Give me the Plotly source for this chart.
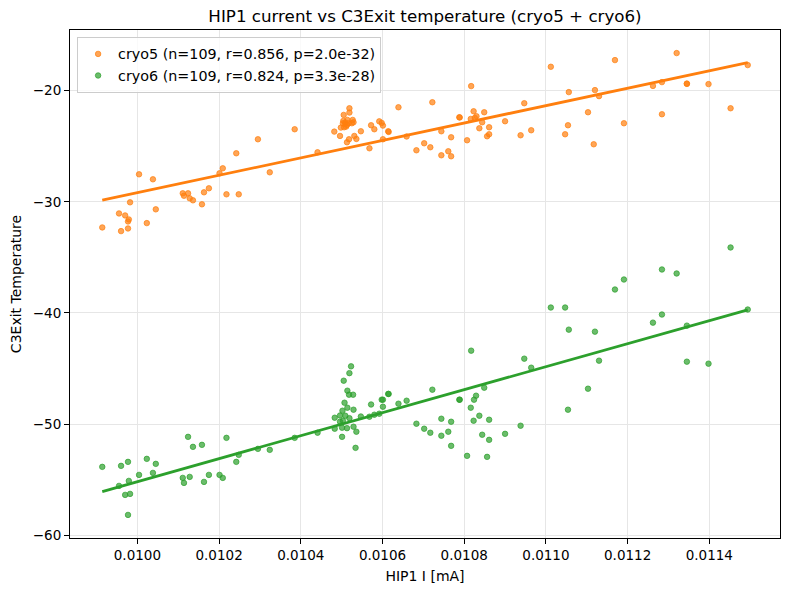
import numpy as np
import plotly.graph_objects as go

# HIP1 current [mA]
x_cryo5 = [0.009914, 0.009955, 0.009960, 0.009970, 0.009977, 0.009977, 0.009979, 0.009982, 0.010004, 0.010023,
           0.010038, 0.010045, 0.010111, 0.010114, 0.010124, 0.010128, 0.010136, 0.010158, 0.010163, 0.010175,
           0.010201, 0.010209, 0.010218, 0.010242, 0.010248, 0.010295, 0.010324, 0.010385, 0.010441, 0.010482,
           0.010496, 0.010498, 0.010503, 0.010504, 0.010505, 0.010506, 0.010509, 0.010509, 0.010511, 0.010513,
           0.010513, 0.010514, 0.010517, 0.010518, 0.010519, 0.010519, 0.010525, 0.010527, 0.010529, 0.010531,
           0.010536, 0.010547, 0.010568, 0.010572, 0.010580, 0.010592, 0.010598, 0.010601, 0.010601, 0.010614,
           0.010615, 0.010639, 0.010659, 0.010683, 0.010702, 0.010717, 0.010722, 0.010744, 0.010744, 0.010761,
           0.010768, 0.010768, 0.010788, 0.010789, 0.010807, 0.010816, 0.010817, 0.010823, 0.010826, 0.010830,
           0.010837, 0.010844, 0.010849, 0.010856, 0.010861, 0.010861, 0.010900, 0.010938, 0.010947, 0.010964,
           0.011012, 0.011047, 0.011054, 0.011056, 0.011103, 0.011117, 0.011120, 0.011130, 0.011169, 0.011191,
           0.011262, 0.011284, 0.011284, 0.011320, 0.011345, 0.011345, 0.011398, 0.011452, 0.011494]
y_cryo5 = [-32.31, -31.05, -32.64, -31.23, -31.77, -32.40, -31.59, -30.05, -27.53, -31.92,
           -27.98, -30.68, -29.24, -29.46, -29.24, -29.69, -29.87, -30.23, -29.15, -28.79,
           -27.44, -26.99, -29.33, -25.64, -29.33, -24.38, -27.35, -23.48, -25.55, -23.69,
           -24.08, -23.33, -22.94, -22.73, -22.19, -23.30, -22.88, -23.00, -23.24, -23.09,
           -24.65, -22.64, -22.94, -24.38, -21.59, -21.98, -22.94, -22.64, -22.85, -24.08,
           -24.35, -23.66, -25.19, -23.12, -23.48, -22.77, -22.91, -23.15, -24.38, -23.66,
           -23.72, -21.50, -24.13, -25.37, -24.74, -25.10, -21.05, -23.66, -25.82, -25.46,
           -25.91, -24.20, -22.40, -22.42, -24.47, -22.55, -19.60, -21.86, -22.46, -22.31,
           -23.39, -22.85, -21.95, -24.11, -23.30, -23.93, -22.76, -24.02, -21.14, -23.57,
           -17.86, -23.93, -23.12, -20.14, -21.95, -24.83, -19.96, -20.50, -17.26, -22.94,
           -19.58, -19.24, -22.13, -16.63, -19.37, -19.40, -19.42, -21.59, -17.71]

x_cryo6 = [0.009914, 0.009955, 0.009960, 0.009970, 0.009977, 0.009977, 0.009979, 0.009982, 0.010004, 0.010023,
           0.010038, 0.010045, 0.010111, 0.010114, 0.010124, 0.010128, 0.010136, 0.010158, 0.010163, 0.010175,
           0.010201, 0.010209, 0.010218, 0.010242, 0.010248, 0.010295, 0.010324, 0.010385,
           0.010441, 0.010483, 0.010483, 0.010496, 0.010496, 0.010501, 0.010501, 0.010502, 0.010503, 0.010505,
           0.010507, 0.010509, 0.010513, 0.010514, 0.010514, 0.010518, 0.010519, 0.010519, 0.010523, 0.010528,
           0.010529, 0.010529, 0.010534, 0.010536, 0.010547, 0.010568, 0.010572, 0.010580, 0.010592, 0.010598,
           0.010601, 0.010601, 0.010614, 0.010615, 0.010639, 0.010659, 0.010683, 0.010702, 0.010717, 0.010722,
           0.010744, 0.010744, 0.010761, 0.010768, 0.010768, 0.010788, 0.010789, 0.010807, 0.010816, 0.010817,
           0.010823, 0.010824, 0.010829, 0.010837, 0.010844, 0.010849, 0.010856, 0.010861, 0.010861, 0.010900,
           0.010938, 0.010947, 0.010964,
           0.011012, 0.011047, 0.011054, 0.011056, 0.011103, 0.011120, 0.011130, 0.011169, 0.011191, 0.011262,
           0.011284, 0.011284, 0.011320, 0.011345, 0.011345, 0.011398, 0.011452, 0.011494]
y_cryo6 = [-53.84, -55.55, -53.75, -56.36, -53.39, -58.16, -55.10, -56.27, -54.56, -53.12,
           -54.38, -53.57, -54.83, -55.28, -51.14, -54.74, -52.04, -51.86, -55.19, -54.56,
           -54.56, -54.83, -51.23, -53.39, -52.76, -52.22, -52.31, -51.23,
           -50.77, -49.42, -50.41, -49.22, -49.78, -50.32, -51.14, -48.79, -49.69, -46.09,
           -48.07, -49.24, -50.36, -46.99, -48.52, -47.35, -45.41, -49.46, -44.80, -47.35,
           -48.70, -50.23, -52.13, -50.68, -49.31, -49.33, -48.23, -49.15, -49.06, -47.80,
           -47.80, -48.43, -47.28, -47.28, -48.16, -47.89, -49.96, -50.41, -50.77, -46.90,
           -49.51, -51.04, -50.68, -49.78, -51.95, -47.80, -47.80, -52.85, -48.52, -43.39,
           -49.69, -47.80, -47.44, -49.24, -50.95, -46.72, -52.94, -49.60, -51.41, -50.87,
           -50.14, -44.11, -44.92,
           -39.51, -39.51, -48.70, -41.50, -46.81, -41.68, -44.29, -37.89, -36.99, -40.87,
           -36.09, -40.14, -36.45, -41.14, -44.38, -44.56, -34.11, -39.69]

series_names = ["cryo5 (n=109, r=0.856, p=2.0e-32)", "cryo6 (n=109, r=0.824, p=3.3e-28)"]
series_rgb = [(255, 127, 14), (44, 160, 44)]

title_text = "HIP1 current vs C3Exit temperature (cryo5 + cryo6)"
x_label = "HIP1 I [mA]"
y_label = "C3Exit Temperature"

FONT = "DejaVu Sans, Liberation Sans, sans-serif"

fig = go.Figure()
all_x, all_y = [], []
for xs, ys, name, rgb in zip([x_cryo5, x_cryo6], [y_cryo5, y_cryo6], series_names, series_rgb):
    xa = np.array(xs)
    ya = np.array(ys)
    all_x += xs
    all_y += ys
    rgba = "rgba(%d,%d,%d,0.7)" % rgb
    solid = "rgb(%d,%d,%d)" % rgb
    fig.add_trace(go.Scatter(
        x=xa, y=ya, mode="markers", name=name,
        marker=dict(color=rgba, size=5.5, line=dict(width=1, color=rgba)),
    ))
    k, b = np.polyfit(xa, ya, 1)
    xl = np.array([xa.min(), xa.max()])
    fig.add_trace(go.Scatter(
        x=xl, y=k * xl + b, mode="lines", showlegend=False,
        line=dict(color=solid, width=2.8), hoverinfo="skip",
    ))

xmin, xmax = min(all_x), max(all_x)
ymin, ymax = min(all_y), max(all_y)
xm = 0.05 * (xmax - xmin)
ym = 0.05 * (ymax - ymin)

grid = "#e6e6e6"
fig.update_layout(
    width=790, height=590,
    margin=dict(l=70, r=10, t=30, b=52),
    paper_bgcolor="white", plot_bgcolor="white",
    font=dict(family=FONT, size=14, color="black"),
    title=dict(text=title_text, x=0.5, xref="paper", xanchor="center",
               y=1 - 16 / 590, yref="container", yanchor="middle",
               font=dict(family=FONT, size=16.7, color="black")),
    showlegend=True,
    legend=dict(x=0.01, y=0.986, xanchor="left", yanchor="top",
                bgcolor="rgba(255,255,255,0.8)", bordercolor="#cccccc", borderwidth=1,
                font=dict(family=FONT, size=14.3, color="black"),
                tracegroupgap=0),
    xaxis=dict(range=[xmin - xm, xmax + xm], tick0=0, dtick=0.0002, tickformat=".4f",
               showgrid=True, gridcolor=grid, gridwidth=1, zeroline=False,
               showline=True, linecolor="black", linewidth=1, mirror=True,
               ticks="outside", ticklen=5, tickcolor="black", tickwidth=1,
               tickfont=dict(family=FONT, size=13.5),
               title=dict(text=x_label, standoff=8, font=dict(family=FONT, size=14))),
    yaxis=dict(range=[ymin - ym, ymax + ym], tick0=0, dtick=10,
               showgrid=True, gridcolor=grid, gridwidth=1, zeroline=False,
               showline=True, linecolor="black", linewidth=1, mirror=True,
               ticks="outside", ticklen=5, tickcolor="black", tickwidth=1,
               tickfont=dict(family=FONT, size=13.5),
               title=dict(text=y_label, standoff=7, font=dict(family=FONT, size=14))),
)

fig.write_html("out.html")
